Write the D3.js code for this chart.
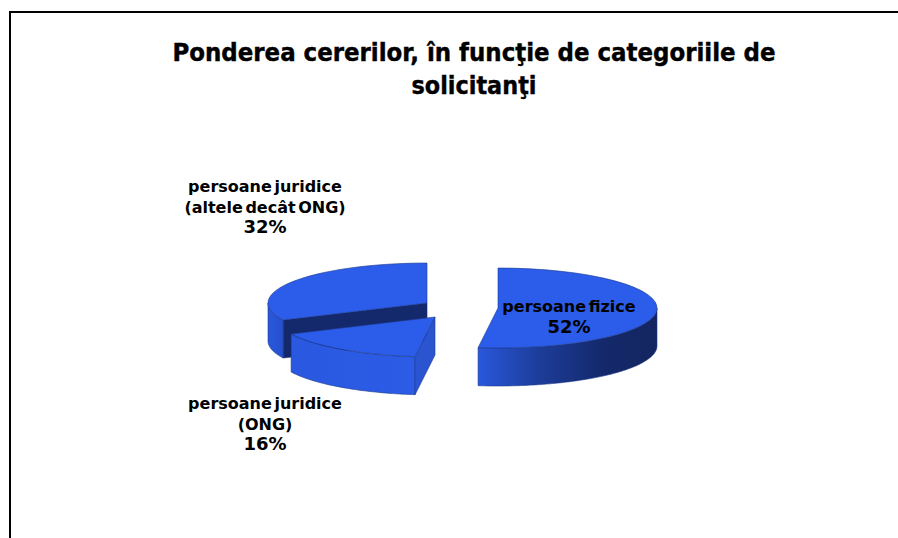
<!DOCTYPE html>
<html>
<head>
    <meta charset="UTF-8">
    <title></title>
    <style>
        html, body { margin: 0; padding: 0; background: #fff; overflow: hidden; }
        text { font-family: "DejaVu Sans", sans-serif; font-weight: bold; fill: #000; text-anchor: middle; }
    </style>
</head>
<body>
<script src="https://cdn.jsdelivr.net/npm/d3@7/dist/d3.min.js" charset="utf-8"></script>
<script>

    var width = 898;
    var height = 538;

    // date
    var categories = ["persoane fizice", "persoane juridice (ONG)", "persoane juridice (altele decât ONG)"];
    var values = [52, 16, 32];
    var titleLines = ["Ponderea cererilor, în funcţie de categoriile de", "solicitanţi"];
    var labelLines = [
        ["persoane fizice", "52%"],
        ["persoane juridice", "(ONG)", "16%"],
        ["persoane juridice", "(altele decât ONG)", "32%"]
    ];

    // geometrie: fiecare felie are centrul ei (felii explodate)
    var rx = 159, ry = 40, depth = 38;
    var centers = [[498, 308], [435, 317], [427, 303]];
    var labelPos = [[569, 312], [265, 409], [265, 192]];
    var drawOrder = [2, 1, 0];

    var topColor = "#2b5cea";
    var edgeColor = "#1c3a8c";
    var navy = "#14296b";

    var svg = d3.select("body")
        .append("svg")
        .attr("width", width)
        .attr("height", height)
        .style("display", "block");

    // cadru
    svg.append("path")
        .attr("d", "M10,538V12H898")
        .attr("fill", "none")
        .attr("stroke", "#000")
        .attr("stroke-width", 2);

    // titlu
    svg.append("g").selectAll("text")
        .data(titleLines)
        .join("text")
        .attr("x", 474)
        .attr("y", (d, i) => 61 + i * 33)
        .attr("font-size", 24)
        .attr("textLength", (d, i) => i == 0 ? 603 : 125)
        .attr("lengthAdjust", "spacingAndGlyphs")
        .style("stroke", "#000")
        .style("stroke-width", 0.4)
        .text(d => d);

    // gradienti pentru peretii exteriori
    var defs = svg.append("defs");
    function addGradient(id, stops) {
        defs.append("linearGradient")
            .attr("id", id)
            .selectAll("stop")
            .data(stops)
            .join("stop")
            .attr("offset", d => d[0])
            .attr("stop-color", d => d[1]);
    }
    addGradient("wall0", [[0, "#2a57dc"], [0.35, "#1c3c98"], [0.7, "#14296b"], [1, "#142660"]]);
    addGradient("wall1", [[0, "#2a58e0"], [1, "#2c5ce6"]]);
    addGradient("wall2", [[0, "#2a58dc"], [1, "#2550cc"]]);

    var pie = d3.pie().sort(null).value(d => d);
    var slices = pie(values);

    var arc = d3.arc().innerRadius(0).outerRadius(rx);
    var line = d3.line();
    var xUnit = d3.scaleLinear().domain([-1, 1]).range([-rx, rx]);
    var yUnit = d3.scaleLinear().domain([-1, 1]).range([ry, -ry]);

    function rim(a, c, dz) {
        return [c[0] + xUnit(Math.sin(a)), c[1] + yUnit(Math.cos(a)) + dz];
    }

    // peretele exterior: numai jumatatea din fata a elipsei se vede
    function outerWall(s, c) {
        var a0 = Math.max(s.startAngle, Math.PI / 2);
        var a1 = Math.min(s.endAngle, Math.PI * 1.5);
        if (a1 <= a0) return null;
        var steps = d3.range(a0, a1, 0.02).concat([a1]);
        var upper = steps.map(a => rim(a, c, 0));
        var lower = steps.slice().reverse().map(a => rim(a, c, depth));
        return line(upper.concat(lower)) + "Z";
    }

    // peretele de taietura dintre centru si marginea feliei
    function cutWall(a, c) {
        var p = rim(a, c, 0);
        return line([c, p, [p[0], p[1] + depth], [c[0], c[1] + depth]]) + "Z";
    }

    drawOrder.forEach(function (i) {
        var s = slices[i];
        var c = centers[i];
        var g = svg.append("g").attr("class", "slice");

        if (i == 2) {
            // fata interioara a feliei din spate
            g.append("path")
                .attr("d", cutWall(s.startAngle, c))
                .attr("fill", navy)
                .attr("stroke", navy)
                .attr("stroke-width", 0.6);
        }
        g.append("path")
            .attr("d", outerWall(s, c))
            .attr("fill", "url(#wall" + i + ")")
            .attr("stroke", edgeColor)
            .attr("stroke-width", 0.6);
        if (i == 1) {
            g.append("path")
                .attr("d", cutWall(s.startAngle, c))
                .attr("fill", "#2a54d0")
                .attr("stroke", edgeColor)
                .attr("stroke-width", 0.6);
        }
        g.append("path")
            .attr("d", arc(s))
            .attr("transform", "translate(" + c[0] + "," + c[1] + ") scale(1," + (ry / rx) + ")")
            .attr("fill", topColor)
            .attr("stroke", edgeColor)
            .attr("stroke-width", 0.6)
            .attr("vector-effect", "non-scaling-stroke");
    });

    // etichete: procentele sunt mai mari decat numele categoriilor
    svg.append("g").selectAll("g")
        .data(labelLines)
        .join("g")
        .attr("transform", (d, i) => "translate(" + labelPos[i][0] + "," + labelPos[i][1] + ")")
        .attr("data-category", (d, i) => categories[i])
        .selectAll("text")
        .data(d => d)
        .join("text")
        .attr("y", (d, i) => i * 20.5)
        .attr("font-size", d => d.endsWith("%") ? 18 : 16)
        .attr("word-spacing", -3)
        .text(d => d);

</script>
</body>
</html>
